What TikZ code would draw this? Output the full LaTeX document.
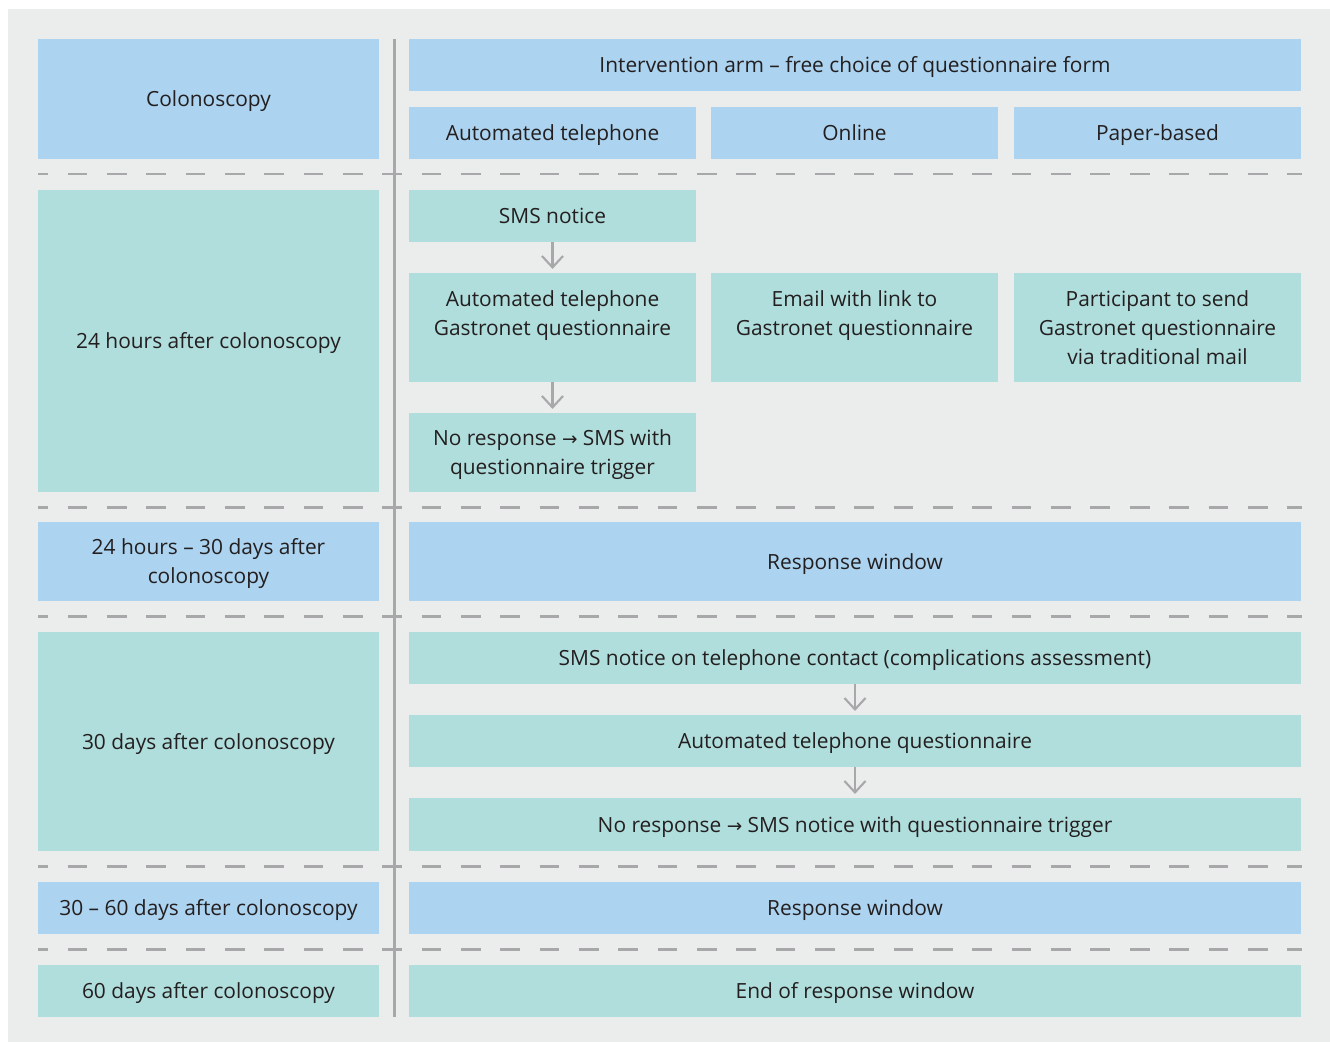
\documentclass[tikz,border=0pt]{standalone}
\usepackage{fontspec}
\setmainfont{Open Sans}
\newfontfamily\arrowfont{DejaVu Sans}
\usetikzlibrary{arrows.meta}
\definecolor{bgc}{HTML}{EBECEC}
\definecolor{bluec}{HTML}{ACD3EF}
\definecolor{tealc}{HTML}{B0DEDC}
\definecolor{linec}{HTML}{A8A8AA}
\definecolor{txtc}{HTML}{231F20}
\newcommand\rarr{{\arrowfont\fontsize{10.5}{10}\selectfont\char"2192}}
\newcommand\topstrut{\vrule height 13.7pt depth 0pt width 0pt\relax}
\newcommand\botstrut{\vrule height 0pt depth 4.9pt width 0pt\relax}
\newcommand\bx[7]{\node[#6, minimum width={(#4-#2)*0.02cm}, minimum height={(#5-#3)*0.02cm}] (#1) at ({(#2+#4)/2},{(#3+#5)/2}) {\topstrut#7\botstrut};}
\begin{document}
\begin{tikzpicture}[x=0.02cm,y=-0.02cm,
  every node/.style={font=\fontsize{11.9}{16.4}\selectfont, text=txtc, align=center, inner sep=0pt, outer sep=0pt},
  bluebox/.style={fill=bluec},
  tealbox/.style={fill=tealc},
  sepline/.style={draw=linec, line width=1.7pt, dash pattern=on 11.197pt off 11.197pt, dash phase=5.598pt},
  vline/.style={draw=linec, line width=1.7pt},
  flow/.style={draw=linec, line width=1.2pt, -{Straight Barb[length=6.5pt,width=12pt]}, shorten >=2.3pt}
]
\useasboundingbox (0,0) rectangle (1330,1042);
\fill[bgc] (8,9) rectangle (1330,1042);
% row 1
\bx{colon}{38}{39}{379}{159}{bluebox}{Colonoscopy}
\bx{head}{409}{39}{1301}{91}{bluebox}{Intervention arm -- free choice of questionnaire form}
\bx{tel}{409}{107}{696}{159}{bluebox}{Automated telephone}
\bx{onl}{711}{107}{998}{159}{bluebox}{Online}
\bx{pap}{1014}{107}{1301}{159}{bluebox}{Paper-based}
% row 2
\bx{l2}{38}{190}{379}{492}{tealbox}{24 hours after colonoscopy}
\bx{sms}{409}{190}{696}{242}{tealbox}{SMS notice}
\bx{atq}{409}{273}{696}{382}{tealbox}{Automated telephone\\Gastronet questionnaire\\\mbox{}}
\bx{email}{711}{273}{998}{382}{tealbox}{Email with link to\\Gastronet questionnaire\\\mbox{}}
\bx{mail}{1014}{273}{1301}{382}{tealbox}{Participant to send\\Gastronet questionnaire\\via traditional mail}
\bx{nr}{409}{413}{696}{492}{tealbox}{No response \rarr{} SMS with\\questionnaire trigger}
% row 3
\bx{l3}{38}{522}{379}{601}{bluebox}{24 hours -- 30 days after\\colonoscopy}
\bx{r3}{409}{522}{1301}{601}{bluebox}{Response window}
% row 4
\bx{l4}{38}{632}{379}{851}{tealbox}{30 days after colonoscopy}
\bx{r4a}{409}{632}{1301}{684}{tealbox}{SMS notice on telephone contact (complications assessment)}
\bx{r4b}{409}{715}{1301}{767}{tealbox}{Automated telephone questionnaire}
\bx{r4c}{409}{798}{1301}{851}{tealbox}{No response \rarr{} SMS notice with questionnaire trigger}
% row 5
\bx{l5}{38}{882}{379}{934}{bluebox}{30 -- 60 days after colonoscopy}
\bx{r5}{409}{882}{1301}{934}{bluebox}{Response window}
% row 6
\bx{l6}{38}{965}{379}{1017}{tealbox}{60 days after colonoscopy}
\bx{r6}{409}{965}{1301}{1017}{tealbox}{End of response window}
% separators
\foreach \yy in {174,507,616,866,949} \draw[sepline] (38,\yy) -- (1302,\yy);
\draw[vline] (394.5,39) -- (394.5,1017);
% flow arrows
\draw[flow] (sms.south) -- (atq.north);
\draw[flow] (atq.south) -- (nr.north);
\draw[flow] (r4a.south) -- (r4b.north);
\draw[flow] (r4b.south) -- (r4c.north);
\end{tikzpicture}
\end{document}
